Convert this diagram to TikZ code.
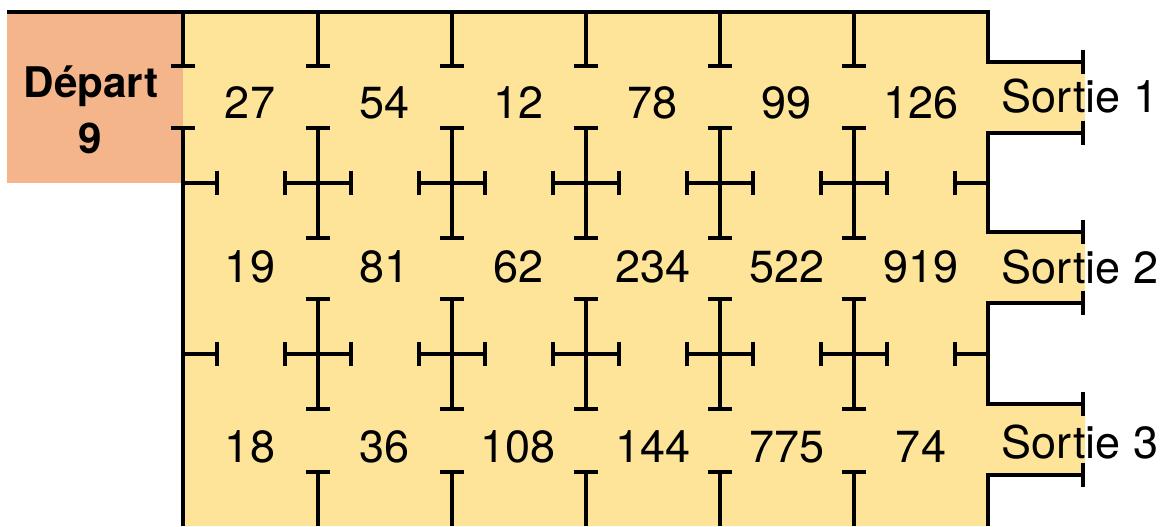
\documentclass[tikz,border=0pt]{standalone}
\usepackage{fontspec}
\setmainfont{TeX Gyre Heros}
\usetikzlibrary{arrows.meta}
\definecolor{mazeyellow}{RGB}{253,228,152}
\definecolor{startorange}{RGB}{244,181,139}
\tikzset{
  wall/.style={line width=2.6pt},
  stub/.style={wall, -{Bar[width=0.62cm]}},
  stubs/.style={wall, {Bar[width=0.62cm]}-{Bar[width=0.62cm]}},
  num/.style={anchor=base, font=\fontsize{32}{38}\selectfont},
  startlbl/.style={anchor=base, font=\bfseries\fontsize{30}{36}\selectfont}
}

\begin{document}
\begin{tikzpicture}[x=0.025cm, y=-0.025cm]
  \useasboundingbox (0,0) rectangle (1169,526);
  \fill[startorange] (7,12) rectangle (183,183);
  \fill[mazeyellow] (183,12) -- (988,12) -- (988,62) -- (1085,62) -- (1085,133)
    -- (988,133) -- (988,232) -- (1085,232) -- (1085,303) -- (988,303)
    -- (988,404) -- (1085,404) -- (1085,475) -- (988,475) -- (988,526)
    -- (183,526) -- cycle;
  \draw[stub] (7,12) -- (988,12) -- (988,62) -- (1085,62);
  \draw[stubs] (1085,133) -- (988,133) -- (988,232) -- (1085,232);
  \draw[stubs] (1085,303) -- (988,303) -- (988,404) -- (1085,404);
  \draw[wall, {Bar[width=0.62cm]}-] (1085,475) -- (988,475) -- (988,526);
  \draw[stub] (183,12) -- (183,68);
  \draw[wall, {Bar[width=0.62cm]}-] (183,126) -- (183,526);
  \foreach \y in {183,354} {
    \draw[stub] (183,\y) -- (219,\y);
    \draw[stub] (988,\y) -- (953,\y);
    \foreach \x in {318,452,586,720,854} {
      \draw[stubs] (\x-35,\y) -- (\x+35,\y);
      \draw[stubs] (\x,\y-57) -- (\x,\y+57);
    }
  }
  \foreach \x in {318,452,586,720,854} {
    \draw[stub] (\x,12) -- (\x,68);
    \draw[stub] (\x,526) -- (\x,470);
  }
  \node[startlbl] (depart) at (91,97) {Départ};
  \node[startlbl] (startval) at (90,153) {9};
  \foreach \v [count=\i] in {27,54,12,78,99,126}
    \node[num] (ra\i) at ({250+134.2*(\i-1)},118) {\v};
  \foreach \v [count=\i] in {19,81,62,234,522,919}
    \node[num] (rb\i) at ({250+134.2*(\i-1)},282) {\v};
  \foreach \v [count=\i] in {18,36,108,144,775,74}
    \node[num] (rc\i) at ({250+134.2*(\i-1)},462) {\v};
  \node[num] (exit1) at (1080,112) {Sortie 1};
  \node[num] (exit2) at (1080,283) {Sortie 2};
  \node[num] (exit3) at (1080,458) {Sortie 3};
\end{tikzpicture}
\end{document}
